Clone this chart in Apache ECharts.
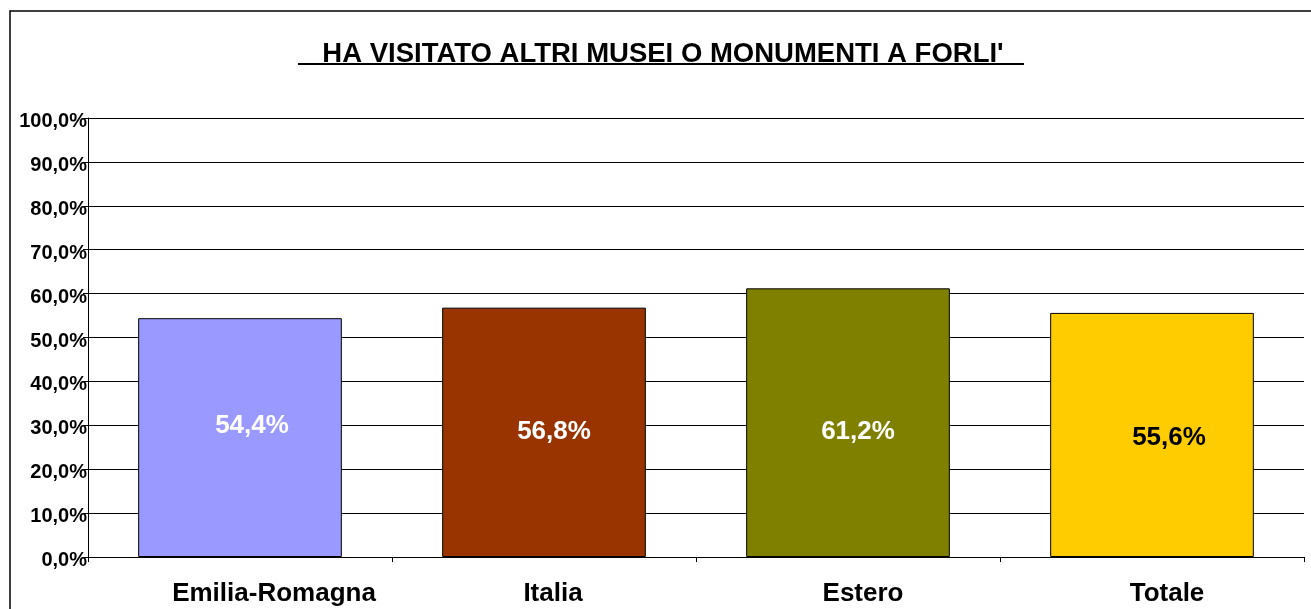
<!DOCTYPE html>
<html>
<head>
<meta charset="utf-8">
<script src="https://cdn.jsdelivr.net/npm/echarts@6/dist/echarts.min.js"></script>
<style>
    html, body { margin: 0; padding: 0; background: #fff; }
    #chart { width: 1311px; height: 609px; }
</style>
</head>
<body>
<div id="chart"></div>
<script>
    var categories = ['Emilia-Romagna', 'Italia', 'Estero', 'Totale'];
    var values = [54.4, 56.8, 61.2, 55.6];
    var titleText = "HA VISITATO ALTRI MUSEI O MONUMENTI A FORLI'";

    // stile per barra (colori, spostamento etichette come nell'originale)
    var barColors = ['#9999ff', '#993300', '#808000', '#ffcc00'];
    var labelColors = ['#ffffff', '#ffffff', '#ffffff', '#000000'];
    var labelOffsets = [[12, -12], [10, 0], [10, 9], [17, 3]];
    var catShift = [34, 9, 15, 15];

    function pct(v) {
        return v.toFixed(1).replace('.', ',') + '%';
    }

    var chart = echarts.init(document.getElementById('chart'));
    var font = 'Liberation Sans, Arial, sans-serif';

    var option = {
        animation: false,
        title: {
            text: titleText,
            left: 658,
            top: 35,
            textAlign: 'center',
            textStyle: {
                fontFamily: font,
                fontSize: 27.5,
                fontWeight: 'bold',
                color: '#000'
            }
        },
        graphic: [
            {
                type: 'rect',
                shape: { x: 10, y: 11, width: 1330, height: 640 },
                style: { fill: 'none', stroke: '#000', lineWidth: 1.5 }
            },
            {
                type: 'line',
                shape: { x1: 298, y1: 64, x2: 1024, y2: 64 },
                style: { stroke: '#000', lineWidth: 2 }
            }
        ],
        grid: {
            left: 88,
            right: 7,
            top: 118,
            bottom: 52
        },
        xAxis: {
            type: 'category',
            data: categories.map(function (c, i) {
                return {
                    value: c,
                    textStyle: { padding: [0, 0, 0, catShift[i] * 2] }
                };
            }),
            axisLine: { lineStyle: { color: '#000', width: 1 } },
            axisTick: { show: true, length: 5, lineStyle: { color: '#000' } },
            axisLabel: {
                margin: 24,
                fontFamily: font,
                fontSize: 26,
                fontWeight: 'bold',
                color: '#000'
            }
        },
        yAxis: {
            type: 'value',
            min: 0,
            max: 100,
            interval: 10,
            axisLine: { show: true, lineStyle: { color: '#000', width: 1 } },
            axisTick: { show: true, length: 5, lineStyle: { color: '#000' } },
            splitLine: { lineStyle: { color: '#000', width: 1 } },
            axisLabel: {
                margin: 1,
                formatter: function (v) { return '{a|' + pct(v) + '}'; },
                rich: {
                    a: {
                        padding: [7, 0, 0, 0],
                        fontFamily: font,
                        fontSize: 20,
                        fontWeight: 'bold',
                        color: '#000'
                    }
                }
            }
        },
        series: [
            {
                type: 'bar',
                barCategoryGap: '33%',
                data: values.map(function (v, i) {
                    return {
                        value: v,
                        itemStyle: { color: barColors[i], borderColor: '#000', borderWidth: 1 },
                        label: { color: labelColors[i], offset: labelOffsets[i] }
                    };
                }),
                label: {
                    show: true,
                    position: 'inside',
                    fontFamily: font,
                    fontSize: 26,
                    fontWeight: 'bold',
                    formatter: function (p) { return pct(p.value); }
                }
            }
        ]
    };

    chart.setOption(option);
</script>
</body>
</html>
